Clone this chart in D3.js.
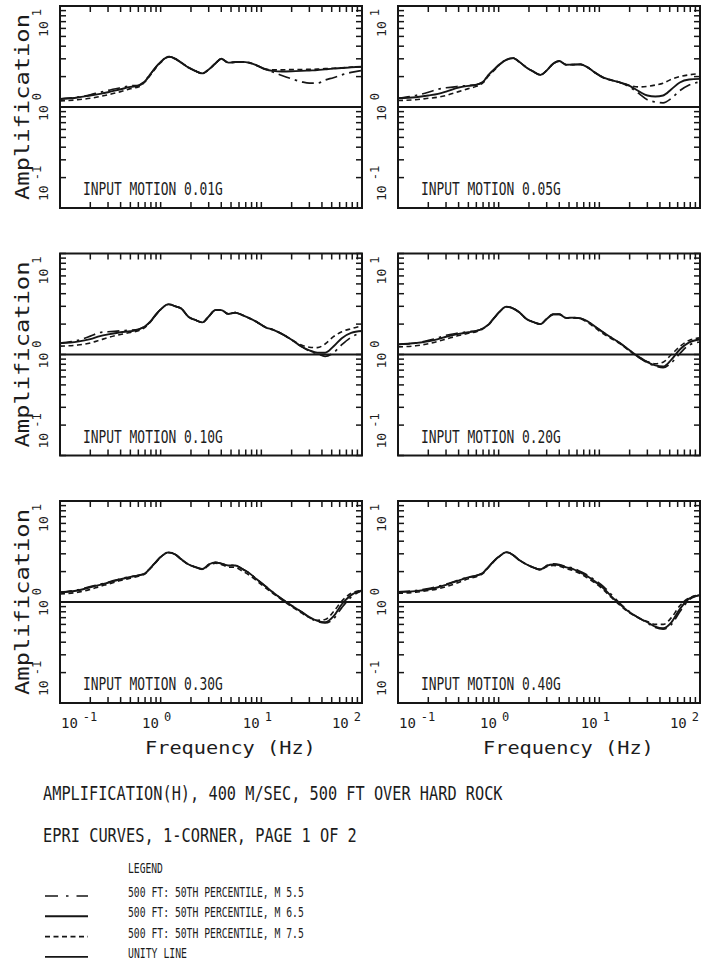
<!DOCTYPE html>
<html>
<head>
<meta charset="utf-8">
<script src="https://cdn.jsdelivr.net/npm/d3@7"></script>
<style>
  body { margin: 0; background: #fff; }
  svg { display: block; }
  text { font-family: "DejaVu Sans Mono", "Liberation Mono", monospace; fill: #1c1c1c; }
</style>
</head>
<body>
<svg id="chart" width="703" height="966"></svg>
<script>
// Frequency grid (Hz) shared by every curve
const freq = [0.1, 0.15, 0.2, 0.25, 0.3, 0.4, 0.5, 0.6, 0.7, 0.8, 0.9, 1.0, 1.2, 1.4, 1.6, 1.9, 2.2, 2.6, 3.0, 3.5,
              4.0, 4.7, 5.5, 6.5, 7.5, 9, 11, 13, 16, 20, 25, 30, 36, 43, 52, 63, 78, 100];

// Input motion 0.01G
const m55_001 = [1.2,1.25,1.32,1.4,1.46, 1.55,1.62,1.64,1.82,2.15, 2.5,2.8,3.15,3.0,2.75, 2.45,2.28,2.15,2.35,2.7, 3.0,2.75,2.78,2.8,2.75, 2.58,2.36,2.22,2.05,1.9, 1.78,1.72,1.72,1.85,1.95, 2.08,2.2,2.3];
const m65_001 = [1.2,1.24,1.3,1.35,1.4, 1.5,1.58,1.62,1.8,2.15, 2.5,2.8,3.15,3.0,2.75, 2.45,2.28,2.15,2.35,2.7, 3.0,2.75,2.78,2.8,2.75, 2.58,2.36,2.28,2.25,2.26, 2.28,2.3,2.32,2.36,2.4, 2.43,2.47,2.5];
const m75_001 = [1.15,1.18,1.22,1.27,1.32, 1.42,1.52,1.58,1.78,2.1, 2.45,2.75,3.12,3.0,2.75, 2.45,2.28,2.15,2.35,2.7, 3.0,2.75,2.78,2.8,2.75, 2.58,2.38,2.33,2.33,2.35, 2.35,2.36,2.37,2.4,2.42, 2.45,2.48,2.5];
// Input motion 0.05G
const m55_005 = [1.22,1.3,1.4,1.5,1.55, 1.6,1.63,1.66,1.78,2.1, 2.35,2.6,2.95,3.05,2.8, 2.45,2.25,2.08,2.3,2.7, 2.85,2.62,2.63,2.64,2.5, 2.2,1.95,1.85,1.75,1.58, 1.35,1.18,1.12,1.1,1.22, 1.45,1.65,1.77];
const m65_005 = [1.22,1.25,1.3,1.35,1.42, 1.56,1.62,1.66,1.78,2.1, 2.35,2.6,2.95,3.05,2.8, 2.45,2.25,2.08,2.3,2.7, 2.85,2.62,2.63,2.64,2.5, 2.2,1.95,1.85,1.75,1.62, 1.42,1.3,1.27,1.3,1.5, 1.75,1.87,1.9];
const m75_005 = [1.16,1.18,1.22,1.25,1.3, 1.42,1.52,1.6,1.74,2.05, 2.3,2.57,2.93,3.05,2.8, 2.45,2.25,2.08,2.3,2.7, 2.85,2.62,2.63,2.64,2.5, 2.2,1.95,1.85,1.75,1.63, 1.58,1.6,1.65,1.72,1.88, 2.0,2.08,2.14];
// Input motion 0.10G
const m55_010 = [1.3,1.38,1.52,1.65,1.68, 1.72,1.74,1.78,1.9,2.15, 2.5,2.8,3.15,3.0,2.85, 2.35,2.2,2.08,2.38,2.75, 2.75,2.52,2.6,2.45,2.3, 2.1,1.86,1.76,1.6,1.4, 1.2,1.08,1.02,0.96,1.04, 1.25,1.48,1.65];
const m65_010 = [1.29,1.34,1.42,1.52,1.58, 1.66,1.7,1.76,1.9,2.15, 2.5,2.8,3.15,3.0,2.85, 2.35,2.2,2.08,2.38,2.75, 2.75,2.52,2.6,2.45,2.3, 2.1,1.86,1.76,1.6,1.4, 1.2,1.1,1.04,1.04,1.2, 1.45,1.64,1.71];
const m75_010 = [1.21,1.24,1.3,1.39,1.47, 1.58,1.65,1.72,1.86,2.12, 2.47,2.78,3.13,3.0,2.85, 2.35,2.2,2.08,2.38,2.75, 2.75,2.52,2.6,2.45,2.3, 2.1,1.86,1.76,1.6,1.4, 1.24,1.18,1.17,1.27,1.5, 1.68,1.8,1.92];
// Input motion 0.20G
const m55_020 = [1.26,1.3,1.38,1.46,1.55, 1.63,1.68,1.72,1.82,2.0, 2.3,2.6,2.98,2.85,2.62, 2.24,2.1,2.0,2.25,2.5, 2.5,2.3,2.32,2.28,2.15, 1.9,1.65,1.48,1.3,1.1, 0.93,0.83,0.77,0.74,0.83, 1.02,1.24,1.33];
const m65_020 = [1.26,1.3,1.35,1.42,1.5, 1.6,1.66,1.71,1.82,2.0, 2.3,2.6,2.98,2.85,2.62, 2.24,2.1,2.0,2.25,2.5, 2.5,2.3,2.32,2.28,2.15, 1.9,1.65,1.48,1.3,1.1, 0.94,0.84,0.78,0.76,0.89, 1.12,1.32,1.41];
const m75_020 = [1.19,1.22,1.28,1.35,1.42, 1.54,1.62,1.68,1.8,1.98, 2.28,2.58,2.96,2.85,2.62, 2.24,2.1,2.0,2.25,2.5, 2.5,2.3,2.3,2.25,2.1, 1.85,1.6,1.45,1.28,1.08, 0.93,0.85,0.81,0.84,1.0, 1.2,1.38,1.46];
// Input motion 0.30G
const m55_030 = [1.25,1.32,1.42,1.5,1.57, 1.7,1.78,1.84,1.93,2.2, 2.5,2.8,3.1,2.95,2.65, 2.35,2.22,2.12,2.35,2.47, 2.4,2.3,2.3,2.12,1.95, 1.68,1.43,1.25,1.07,0.92, 0.8,0.7,0.64,0.62,0.68, 0.88,1.12,1.3];
const m65_030 = [1.24,1.3,1.4,1.48,1.55, 1.68,1.77,1.83,1.92,2.2, 2.5,2.8,3.1,2.95,2.65, 2.35,2.22,2.12,2.35,2.47, 2.4,2.3,2.3,2.12,1.95, 1.68,1.43,1.25,1.07,0.92, 0.8,0.71,0.65,0.63,0.72, 0.95,1.17,1.3];
const m75_030 = [1.2,1.25,1.33,1.43,1.5, 1.63,1.72,1.8,1.9,2.17, 2.48,2.78,3.08,2.95,2.65, 2.35,2.22,2.1,2.3,2.42, 2.35,2.22,2.2,2.02,1.86, 1.62,1.38,1.22,1.05,0.9, 0.78,0.7,0.66,0.67,0.8, 1.02,1.22,1.3];
// Input motion 0.40G
const m55_040 = [1.26,1.3,1.36,1.43,1.5, 1.65,1.76,1.83,1.96,2.25, 2.55,2.8,3.12,2.9,2.6, 2.35,2.2,2.1,2.3,2.38, 2.35,2.24,2.16,2.0,1.86, 1.65,1.42,1.2,0.97,0.8, 0.69,0.62,0.56,0.54,0.6, 0.8,1.05,1.17];
const m65_040 = [1.25,1.28,1.33,1.4,1.48, 1.63,1.75,1.82,1.95,2.25, 2.55,2.8,3.12,2.9,2.6, 2.35,2.2,2.1,2.28,2.35, 2.32,2.2,2.12,1.95,1.82, 1.6,1.37,1.15,0.95,0.79, 0.69,0.63,0.57,0.55,0.63, 0.85,1.08,1.17];
const m75_040 = [1.22,1.25,1.3,1.35,1.42, 1.56,1.7,1.78,1.92,2.22, 2.52,2.78,3.1,2.9,2.6, 2.35,2.2,2.08,2.24,2.3, 2.26,2.14,2.05,1.9,1.75, 1.55,1.32,1.12,0.93,0.78, 0.69,0.64,0.6,0.6,0.7, 0.92,1.1,1.17];

const motionLabels = ["INPUT MOTION 0.01G", "INPUT MOTION 0.05G", "INPUT MOTION 0.10G",
                      "INPUT MOTION 0.20G", "INPUT MOTION 0.30G", "INPUT MOTION 0.40G"];
const xTickValues = [0.1, 1, 10, 100];
const xTickExps = ["-1", "0", "1", "2"];
const yTickValues = [0.1, 1, 10];
const yTickExps = ["-1", "0", "1"];
const seriesNames = ["500 FT: 50TH PERCENTILE, M 5.5", "500 FT: 50TH PERCENTILE, M 6.5",
                     "500 FT: 50TH PERCENTILE, M 7.5", "UNITY LINE"];
const titleLines = ["AMPLIFICATION(H), 400 M/SEC, 500 FT OVER HARD ROCK", "EPRI CURVES, 1-CORNER, PAGE 1 OF 2"];

// one row per panel: curves for M5.5, M6.5, M7.5
const panelCurves = [
  [m55_001, m65_001, m75_001],
  [m55_005, m65_005, m75_005],
  [m55_010, m65_010, m75_010],
  [m55_020, m65_020, m75_020],
  [m55_030, m65_030, m75_030],
  [m55_040, m65_040, m75_040]
];

// line styles: dash-dot, solid, dashed
const styles = [
  { dash: "12,5,2.5,5", width: 1.7 },
  { dash: null, width: 1.9 },
  { dash: "5,3.5", width: 1.6 }
];
const ink = "#161616";

const svg = d3.select("#chart");
const colX = [60, 398];
const rowY = [6, 253.5, 501];
const pw = 302, ph = 202;

const x = d3.scaleLog().domain([0.1, 100]).range([0, pw]);
const y = d3.scaleLog().domain([0.1, 10]).range([ph, 0]);

// narrow plotter-style lettering: measure the text, then scale it horizontally to its width
function fitText(parent, str, fontSize, width, place, anchor) {
  const t = parent.append("text").attr("font-size", fontSize).attr("text-anchor", anchor || "start").text(str);
  const natural = t.node().getComputedTextLength();
  t.attr("transform", `${place} scale(${(width / natural).toFixed(4)},1)`);
  return t;
}

const minorX = [];
for (let d = -1; d <= 1; d++) for (let k = 1; k <= 9; k++) minorX.push(k * Math.pow(10, d));
minorX.push(100);
const minorY = [];
for (let d = -1; d <= 0; d++) for (let k = 1; k <= 9; k++) minorY.push(k * Math.pow(10, d));
minorY.push(10);

const line = d3.line()
  .x((d, i) => x(freq[i]))
  .y(d => y(d))
  .curve(d3.curveMonotoneX);

panelCurves.forEach((curves, p) => {
  const col = p % 2, row = Math.floor(p / 2);
  const g = svg.append("g").attr("transform", `translate(${colX[col]},${rowY[row]})`);

  g.append("clipPath").attr("id", "clip" + p)
    .append("rect").attr("width", pw).attr("height", ph);

  // tick marks on all four sides, pointing inward
  const tl = 6;
  const ticks = g.append("g").attr("stroke", ink).attr("stroke-width", 1.5);
  minorX.forEach(v => {
    const xx = x(v);
    ticks.append("line").attr("x1", xx).attr("x2", xx).attr("y1", 0).attr("y2", tl);
    ticks.append("line").attr("x1", xx).attr("x2", xx).attr("y1", ph).attr("y2", ph - tl);
  });
  minorY.forEach(v => {
    const yy = y(v);
    ticks.append("line").attr("x1", 0).attr("x2", tl).attr("y1", yy).attr("y2", yy);
    ticks.append("line").attr("x1", pw).attr("x2", pw - tl).attr("y1", yy).attr("y2", yy);
  });

  // unity line
  g.append("line").attr("x1", 0).attr("x2", pw).attr("y1", y(1)).attr("y2", y(1))
    .attr("stroke", ink).attr("stroke-width", 1.8);

  // amplification curves (dashed first, solid on top)
  const curveG = g.append("g").attr("clip-path", `url(#clip${p})`);
  [2, 0, 1].forEach(s => {
    curveG.append("path")
      .attr("d", line(curves[s]))
      .attr("fill", "none")
      .attr("stroke", ink)
      .attr("stroke-width", styles[s].width)
      .attr("stroke-dasharray", styles[s].dash)
      .attr("stroke-linejoin", "round");
  });

  // frame
  g.append("rect").attr("width", pw).attr("height", ph)
    .attr("fill", "none").attr("stroke", ink).attr("stroke-width", 2);

  // panel caption
  fitText(g, motionLabels[p], 17, 140, `translate(23,${ph - 13})`);

  // y tick labels, rotated
  yTickValues.forEach((v, i) => {
    const yy = y(v);
    let anchor = "middle", pos = yy;
    if (i === 0) { anchor = "start"; pos = ph - 7; }
    if (i === yTickValues.length - 1) { anchor = "end"; pos = 3; }
    const t = g.append("text")
      .attr("transform", `translate(-12,${pos}) rotate(-90)`)
      .attr("text-anchor", anchor)
      .attr("font-size", 13);
    t.append("tspan").text("10");
    t.append("tspan").attr("dx", 5).attr("dy", -7).attr("font-size", 12).text(yTickExps[i]);
  });

  // y axis title on the left column
  if (col === 0) {
    fitText(g, "Amplification", 20, 186, `translate(-31,${ph / 2}) rotate(-90)`, "middle");
  }

  // x tick labels and title on the bottom row
  if (row === 2) {
    xTickValues.forEach((v, i) => {
      const xx = x(v);
      let anchor = "middle", pos = xx - 4;
      if (i === 0) { anchor = "start"; pos = 1; }
      if (i === xTickValues.length - 1) { anchor = "end"; pos = pw - 1; }
      const t = g.append("text")
        .attr("x", pos).attr("y", ph + 25)
        .attr("text-anchor", anchor)
        .attr("font-size", 14);
      t.append("tspan").text("10");
      t.append("tspan").attr("dx", 5).attr("dy", -7).attr("font-size", 12).text(xTickExps[i]);
    });
    fitText(g, "Frequency (Hz)", 18, 171, `translate(85,${ph + 51})`);
  }
});

// page title
const titleLen = [460, 314];
titleLines.forEach((s, i) => {
  fitText(svg, s, 20, titleLen[i], `translate(43,${800 + i * 42})`);
});

// legend
fitText(svg, "LEGEND", 14, 35, "translate(128,873)");
const legendLen = [176, 176, 176, 59];
const legendDash = ["13,8,2.5,8", null, "5,3.5", null];
const legendWidth = [1.7, 1.9, 1.6, 1.8];
seriesNames.forEach((s, i) => {
  const by = 897 + i * 20.3;
  svg.append("line").attr("x1", 45).attr("x2", 88).attr("y1", by - 1).attr("y2", by - 1)
    .attr("stroke", ink).attr("stroke-width", legendWidth[i])
    .attr("stroke-dasharray", legendDash[i]);
  fitText(svg, s, 14, legendLen[i], `translate(128,${by})`);
});
</script>
</body>
</html>
